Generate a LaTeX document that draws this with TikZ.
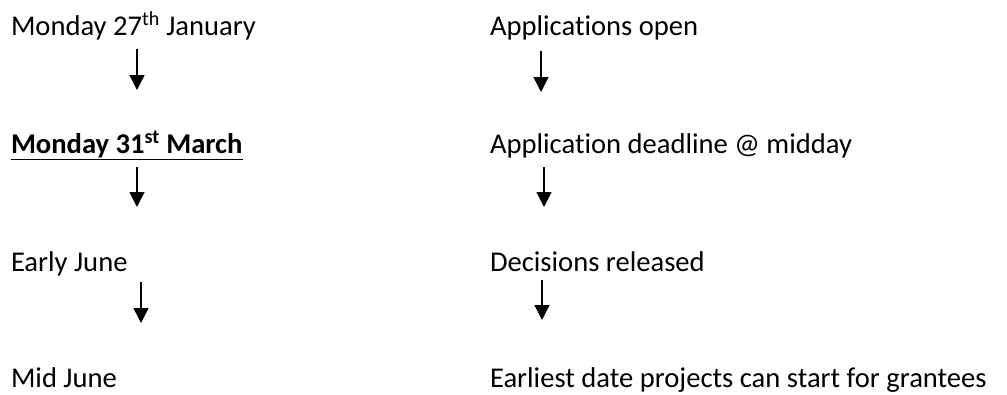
\documentclass[tikz,border=0pt]{standalone}
\usepackage{fontspec}
\setmainfont{Carlito}[Ligatures={NoCommon}]
\usetikzlibrary{arrows.meta}
\begin{document}
\begin{tikzpicture}[x=1pt,y=-1pt,
  lbl/.style={anchor=base west,inner sep=0pt,outer sep=0pt,font=\fontsize{28.6}{34}\selectfont},
  arr/.style={line width=1.4pt,-{Triangle[width=15pt,length=15pt]}}]
\useasboundingbox[fill=white] (0,0) rectangle (1007,394);
% left column
\node[lbl] (l1) at (11,35) {Monday 27\textsuperscript{th} January};
\node[lbl] (l2) at (11,153) {\bfseries\underline{Monday 31\textsuperscript{st} March}};
\node[lbl] (l3) at (11,271) {Early June};
\node[lbl] (l4) at (11,387) {Mid June};
% right column
\node[lbl] (r1) at (490,35) {Applications open};
\node[lbl] (r2) at (490,153) {Application deadline @ midday};
\node[lbl] (r3) at (490,271) {Decisions released};
\node[lbl] (r4) at (490,387) {Earliest date projects can start for grantees};
% arrow coordinates
\coordinate (la1) at (137,49);  \coordinate (lb1) at (137,90);
\coordinate (la2) at (137,167); \coordinate (lb2) at (137,207);
\coordinate (la3) at (141,282); \coordinate (lb3) at (141,323);
\coordinate (ra1) at (541,51);  \coordinate (rb1) at (541,92);
\coordinate (ra2) at (544,167); \coordinate (rb2) at (544,207);
\coordinate (ra3) at (542,280); \coordinate (rb3) at (542,320);
\draw[arr] (la1) -- (lb1);
\draw[arr] (la2) -- (lb2);
\draw[arr] (la3) -- (lb3);
\draw[arr] (ra1) -- (rb1);
\draw[arr] (ra2) -- (rb2);
\draw[arr] (ra3) -- (rb3);
\end{tikzpicture}
\end{document}
